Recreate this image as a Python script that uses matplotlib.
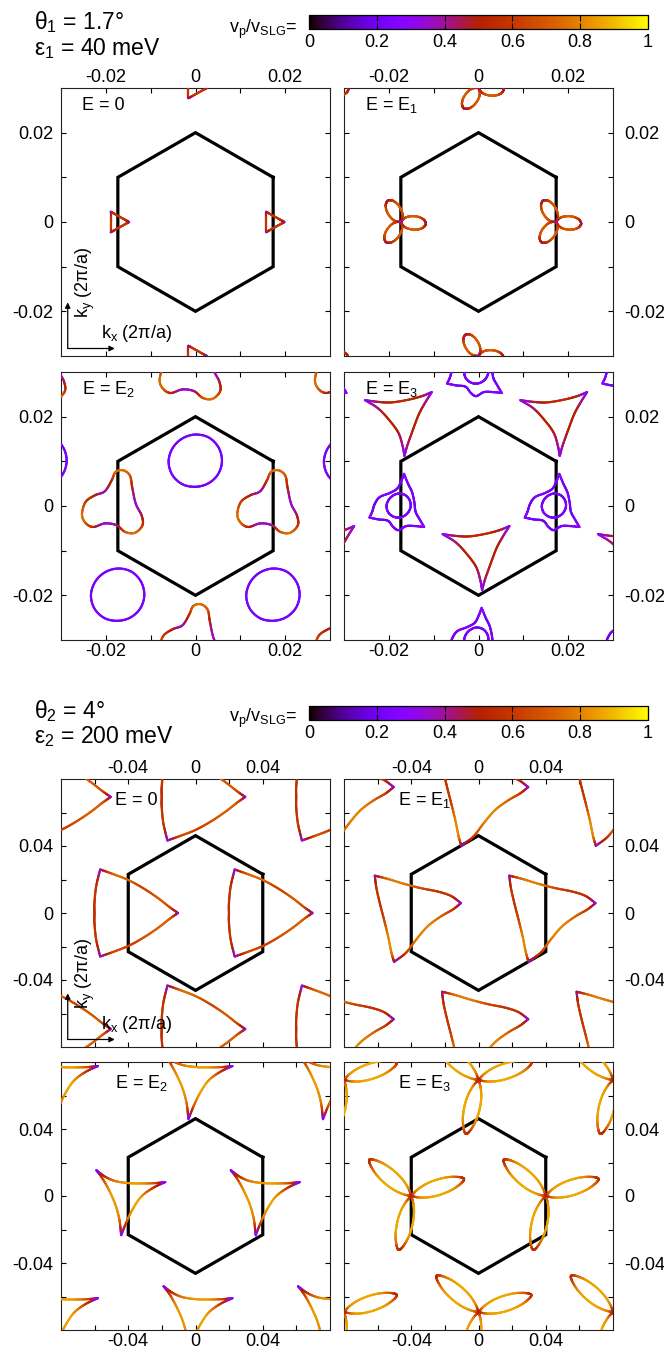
import numpy as np
import matplotlib
matplotlib.use("Agg")
import matplotlib.pyplot as plt
from matplotlib.collections import LineCollection
from matplotlib.colors import Normalize
from matplotlib.cm import ScalarMappable

plt.rcParams["font.family"] = ["Liberation Sans", "DejaVu Sans"]
plt.rcParams["mathtext.fontset"] = "custom"
plt.rcParams["mathtext.rm"] = "Liberation Sans"
plt.rcParams["mathtext.it"] = "Liberation Sans:italic"
plt.rcParams["mathtext.bf"] = "Liberation Sans:bold"
plt.rcParams["axes.unicode_minus"] = False

# ------------------------------------------------------------------ texts
GROUP_THETA = ["θ$_1$ = 1.7°", "θ$_2$ = 4°"]
GROUP_EPS = ["ε$_1$ = 40 meV", "ε$_2$ = 200 meV"]
PANEL_LABELS = ["E = 0", "E = E$_1$", "E = E$_2$", "E = E$_3$"]
CBAR_LABEL = "v$_\\mathrm{p}$/v$_\\mathrm{SLG}$="
CBAR_TICKS = [0, 0.2, 0.4, 0.6, 0.8, 1.0]
CBAR_TICKLABELS = ["0", "0.2", "0.4", "0.6", "0.8", "1"]
KX_LABEL = "k$_\\mathrm{x}$ (2π/a)"
KY_LABEL = "k$_\\mathrm{y}$ (2π/a)"

# ------------------------------------------------------------------ axes data
HEX_R = [0.02, 0.04619]          # hexagon circumradius per group
LIMS = [0.03, 0.08]
MAJOR_TICKS = [[-0.02, 0.0, 0.02], [-0.04, 0.0, 0.04]]
MAJOR_LABELS = [["-0.02", "0", "0.02"], ["-0.04", "0", "0.04"]]
MINOR_TICKS = [[-0.01, 0.01], [-0.06, -0.02, 0.02, 0.06]]

# motif sites (one per sublattice, repeated over the moire lattice)
SITE_A1 = (0.01732, 0.0)
SITE_B1 = (0.0, 0.010)
SITE_C1 = (0.0, -0.010)
SITE_A2 = (0.040, 0.0)

# ---- group 1, E = 0 : small triangles
T1_TRI_X = [-0.0016, 0.0025, -0.0016]
T1_TRI_Y = [0.0023, 0.0, -0.0023]
T1_EDGE_FRAC = [0.0, 0.15, 0.5, 0.85, 1.0]
T1_EDGE_V = [0.32, 0.54, 0.59, 0.54, 0.32]

# ---- group 1, E = E1 : three-lobed propellers (one lobe, local frame)
T2_LOBE_X = [0, 0.0006, 0.0015, 0.0027, 0.0039, 0.0049, 0.0054, 0.0056,
             0.0054, 0.0049, 0.0039, 0.0027, 0.0015, 0.0006, 0]
T2_LOBE_Y = [0, 0.0008, 0.0013, 0.0015, 0.0014, 0.0010, 0.0005, 0,
             -0.0005, -0.0010, -0.0014, -0.0015, -0.0013, -0.0008, 0]
T2_LOBE_V = [0.40, 0.58, 0.68, 0.71, 0.69, 0.60, 0.50, 0.45,
             0.50, 0.60, 0.69, 0.71, 0.68, 0.58, 0.40]
T2_LOBE_ANG = [-4, 121, 234]

# ---- group 1, E = E2 : three-lobed blobs + violet pockets
T3_BLOB_X = [-0.0080, -0.0072, -0.0051, -0.0029, -0.0014, -0.0005, 0.0012, 0.0027,
             0.0032, 0.0040, 0.0053, 0.0055, 0.0038, 0.0016, -0.0003, -0.0029,
             -0.0055, -0.0072]
T3_BLOB_Y = [-0.0019, 0.0009, 0.0024, 0.0033, 0.0057, 0.0076, 0.0080, 0.0068,
             0.0042, 0.0005, -0.0021, -0.0043, -0.0060, -0.0058, -0.0043, -0.0039,
             -0.0047, -0.0038]
T3_BLOB_V = [0.75, 0.62, 0.50, 0.38, 0.55, 0.72, 0.75, 0.70,
             0.50, 0.36, 0.45, 0.58, 0.75, 0.70, 0.42, 0.36,
             0.50, 0.70]
T3_CIRC_ANG = [0, 30, 60, 90, 120, 150, 180, 210, 240, 270, 300, 330]
T3_CIRC_R = [0.0059, 0.0060, 0.0061, 0.0060, 0.0059, 0.0059,
             0.0060, 0.0060, 0.0059, 0.0057, 0.0057, 0.0058]
T3_CIRC_V = [0.22, 0.22, 0.23, 0.22, 0.21, 0.22, 0.22, 0.23, 0.22, 0.21, 0.22, 0.22]

# ---- group 1, E = E3 : wavy outer pocket + inner pocket, and deltoids
T4_OUT_X = [[0.0007, 0.0001, -0.0008, -0.0025, -0.0047, -0.0058, -0.0064, -0.0070],
            [-0.0070, -0.0050, -0.0029, -0.0017, -0.0005, 0.0012, 0.0033, 0.0052],
            [0.0052, 0.0042, 0.0033, 0.0030, 0.0025, 0.0016, 0.0007]]
T4_OUT_Y = [[0.0072, 0.0056, 0.0039, 0.0029, 0.0020, 0.0005, -0.0013, -0.0026],
            [-0.0026, -0.0030, -0.0033, -0.0047, -0.0054, -0.0045, -0.0045, -0.0047],
            [-0.0047, -0.0030, -0.0013, 0.0009, 0.0031, 0.0050, 0.0072]]
T4_OUT_V = [[0.30, 0.24, 0.20, 0.24, 0.22, 0.19, 0.22, 0.30],
            [0.30, 0.22, 0.19, 0.24, 0.21, 0.23, 0.24, 0.30],
            [0.30, 0.24, 0.20, 0.22, 0.23, 0.20, 0.30]]
T4_IN_CENTER = (-0.0004, 0.0)
T4_IN_ANG = [0, 30, 60, 90, 120, 150, 180, 210, 240, 270, 300, 330]
T4_IN_R = [0.0026, 0.0027, 0.0028, 0.0028, 0.0027, 0.0027,
           0.0028, 0.0028, 0.0027, 0.0026, 0.0025, 0.0025]
T4_IN_V = [0.22] * 12
T4_DEL_X = [[-0.0080, -0.0050, -0.0020, 0.0017, 0.0047, 0.0069],
            [0.0069, 0.0054, 0.0040, 0.0026, 0.0014, 0.0008],
            [0.0008, 0.0004, -0.0005, -0.0024, -0.0050, -0.0080]]
T4_DEL_Y = [[0.0037, 0.0033, 0.0032, 0.0038, 0.0046, 0.0055],
            [0.0055, 0.0031, 0.0005, -0.0032, -0.0066, -0.0088],
            [-0.0088, -0.0066, -0.0037, -0.0010, 0.0018, 0.0037]]
T4_DEL_V = [[0.30, 0.45, 0.52, 0.54, 0.48, 0.30],
            [0.30, 0.42, 0.50, 0.50, 0.42, 0.30],
            [0.30, 0.38, 0.47, 0.52, 0.45, 0.30]]

# ---- group 2, E = 0 : rounded triangles
B1_X = [[-0.0167, -0.0089, 0.0, 0.0089, 0.0177, 0.0246, 0.0296],
        [0.0296, 0.0246, 0.0177, 0.0089, 0.0, -0.0089, -0.0167],
        [-0.0167, -0.0191, -0.0201, -0.0201, -0.0201, -0.0191, -0.0167]]
B1_Y = [[0.0260, 0.0232, 0.0197, 0.0148, 0.0089, 0.0035, 0.0],
        [0.0, -0.0035, -0.0089, -0.0148, -0.0197, -0.0232, -0.0260],
        [-0.0260, -0.0158, -0.0059, 0.0, 0.0059, 0.0158, 0.0260]]
B1_V = [[0.35, 0.71, 0.73, 0.64, 0.70, 0.66, 0.35],
        [0.35, 0.68, 0.72, 0.68, 0.62, 0.66, 0.35],
        [0.35, 0.58, 0.57, 0.57, 0.57, 0.58, 0.35]]

# ---- group 2, E = E1 : twisted triangles
B2_X = [[-0.0217, -0.0138, -0.0039, 0.0059, 0.0158, 0.0236, 0.0296],
        [0.0296, 0.0246, 0.0177, 0.0098, 0.0030, -0.0030, -0.0102],
        [-0.0102, -0.0118, -0.0138, -0.0162, -0.0187, -0.0207, -0.0217]]
B2_Y = [[0.0223, 0.0203, 0.0173, 0.0148, 0.0128, 0.0102, 0.0059],
        [0.0059, 0.0020, -0.0020, -0.0079, -0.0158, -0.0236, -0.0292],
        [-0.0292, -0.0236, -0.0138, -0.0039, 0.0059, 0.0148, 0.0223]]
B2_V = [[0.40, 0.74, 0.78, 0.66, 0.58, 0.57, 0.35],
        [0.35, 0.58, 0.72, 0.80, 0.78, 0.62, 0.35],
        [0.35, 0.76, 0.80, 0.64, 0.58, 0.58, 0.40]]

# ---- group 2, E = E2 : deltoids
B3_X = [[-0.0190, -0.0137, -0.0077, 0.0002, 0.0081, 0.0160, 0.0220],
        [0.0220, 0.0150, 0.0081, 0.0032, -0.0008, -0.0042],
        [-0.0042, -0.0053, -0.0077, -0.0117, -0.0156, -0.0190]]
B3_Y = [[0.0154, 0.0115, 0.0089, 0.0077, 0.0075, 0.0077, 0.0083],
        [0.0083, 0.0050, 0.0000, -0.0069, -0.0149, -0.0234],
        [-0.0234, -0.0139, -0.0050, 0.0040, 0.0109, 0.0154]]
B3_V = [[0.25, 0.55, 0.77, 0.84, 0.84, 0.66, 0.25],
        [0.25, 0.56, 0.82, 0.86, 0.72, 0.25],
        [0.25, 0.74, 0.84, 0.82, 0.62, 0.25]]

# ---- group 2, E = E3 : three-petal flowers (one petal, local frame)
B4_LOBE_X = [0, 0.004, 0.010, 0.017, 0.024, 0.029, 0.032, 0.033,
             0.032, 0.029, 0.024, 0.017, 0.010, 0.004, 0]
B4_LOBE_Y = [0, 0.0022, 0.0040, 0.0046, 0.0040, 0.0026, 0.0012, 0,
             -0.0012, -0.0026, -0.0040, -0.0046, -0.0040, -0.0022, 0]
B4_LOBE_V = [0.50, 0.80, 0.86, 0.87, 0.84, 0.72, 0.58, 0.55,
             0.60, 0.74, 0.84, 0.87, 0.86, 0.80, 0.50]
B4_LOBE_ANG = [18, 139, 257]

# ------------------------------------------------------------------ helpers
W, H = 664, 1349
CMAP = plt.get_cmap("gnuplot")
NORM = Normalize(0.0, 1.0)
LW_CURVE = 1.6


def spline(x, y, v, closed, n=14):
    P = np.column_stack([x, y, v]).astype(float)
    if closed:
        Q = np.vstack([P[-1], P, P[0], P[1]])
    else:
        Q = np.vstack([2 * P[0] - P[1], P, 2 * P[-1] - P[-2]])
    t = np.linspace(0, 1, n, endpoint=False)[:, None]
    out = []
    for i in range(1, len(Q) - 2):
        p0, p1, p2, p3 = Q[i - 1], Q[i], Q[i + 1], Q[i + 2]
        out.append(0.5 * (2 * p1 + (-p0 + p2) * t + (2 * p0 - 5 * p1 + 4 * p2 - p3) * t ** 2
                          + (-p0 + 3 * p1 - 3 * p2 + p3) * t ** 3))
    out.append(Q[-2][None, :])
    return np.vstack(out)


def draw_curve(ax, x, y, v, center, closed=False, angle=0.0):
    S = spline(x, y, v, closed)
    th = np.deg2rad(angle)
    c, s = np.cos(th), np.sin(th)
    X = center[0] + c * S[:, 0] - s * S[:, 1]
    Y = center[1] + s * S[:, 0] + c * S[:, 1]
    pts = np.column_stack([X, Y])
    segs = np.stack([pts[:-1], pts[1:]], axis=1)
    vals = np.clip(0.5 * (S[:-1, 2] + S[1:, 2]), 0, 1)
    lc = LineCollection(segs, cmap=CMAP, norm=NORM, linewidths=LW_CURVE,
                        capstyle="round", joinstyle="round", zorder=3)
    lc.set_array(vals)
    ax.add_collection(lc)


def polar(ang, r, c0=(0.0, 0.0)):
    a = np.deg2rad(np.asarray(ang, float))
    r = np.asarray(r, float)
    return c0[0] + r * np.cos(a), c0[1] + r * np.sin(a)


def sites(offset, K, lim, margin):
    a1 = np.array([np.sqrt(3) * K, 0.0])
    a2 = np.array([np.sqrt(3) / 2 * K, 1.5 * K])
    out = []
    for n in range(-5, 6):
        for m in range(-5, 6):
            c = np.array(offset) + n * a1 + m * a2
            if abs(c[0]) < lim + margin and abs(c[1]) < lim + margin:
                out.append(c)
    return out


def edges(ax, XS, YS, VS, center):
    for xs, ys, vs in zip(XS, YS, VS):
        draw_curve(ax, xs, ys, vs, center, closed=False)


def style(ax, g, row, col):
    lim = LIMS[g]
    ax.set_xlim(-lim, lim)
    ax.set_ylim(-lim, lim)
    ax.set_xticks(MAJOR_TICKS[g])
    ax.set_xticklabels(MAJOR_LABELS[g])
    ax.set_yticks(MAJOR_TICKS[g])
    ax.set_yticklabels(MAJOR_LABELS[g])
    ax.set_xticks(MINOR_TICKS[g], minor=True)
    ax.set_yticks(MINOR_TICKS[g], minor=True)
    ax.tick_params(which="both", direction="in", top=True, bottom=True, left=True,
                   right=True, length=3.8, width=0.8, labelsize=13)
    ax.tick_params(axis="x", labeltop=(row == 0), labelbottom=(row == 1),
                   pad=1.5 if row == 0 else 2.5)
    ax.tick_params(axis="y", labelleft=(col == 0), labelright=(col == 1),
                   pad=5.5 if col == 0 else 8.0)
    for sp in ax.spines.values():
        sp.set_linewidth(0.8)
        sp.set_color("#222222")
    # hexagon
    K = HEX_R[g]
    ang = np.deg2rad(np.arange(30, 391, 60))
    ax.plot(K * np.cos(ang), K * np.sin(ang), color="black", lw=2.3, zorder=2,
            solid_joinstyle="miter")


def axis_arrows(ax, g):
    ax.annotate("", xy=(0.025, 0.20), xytext=(0.025, 0.028), xycoords="axes fraction",
                arrowprops=dict(arrowstyle="-|>", lw=0.9, color="black",
                                mutation_scale=8, shrinkA=0, shrinkB=0))
    ax.annotate("", xy=(0.20, 0.028), xytext=(0.025, 0.028), xycoords="axes fraction",
                arrowprops=dict(arrowstyle="-|>", lw=0.9, color="black",
                                mutation_scale=8, shrinkA=0, shrinkB=0))
    ax.text(0.09, 0.275, KY_LABEL, transform=ax.transAxes, rotation=90,
            ha="center", va="center", fontsize=13)
    ax.text(0.15, 0.085, KX_LABEL, transform=ax.transAxes, ha="left",
            va="center", fontsize=13)


# ------------------------------------------------------------------ figure
fig = plt.figure(figsize=(W / 100, H / 100), dpi=100)

COL_X = [61, 344]
ROW_TOP = [[88, 372], [779, 1062]]
PW, PH = 269, 268
LABEL_X = [0.078, 0.2]
LABEL_Y = [0.935, 0.92]

axes = {}
for g in range(2):
    for row in range(2):
        for col in range(2):
            ax = fig.add_axes([COL_X[col] / W, 1 - (ROW_TOP[g][row] + PH) / H, PW / W, PH / H])
            style(ax, g, row, col)
            ax.text(LABEL_X[g], LABEL_Y[g], PANEL_LABELS[row * 2 + col], transform=ax.transAxes,
                    ha="left", va="center", fontsize=13, zorder=5)
            axes[(g, row, col)] = ax

# ---- group 1 panels
K1, L1 = HEX_R[0], LIMS[0]
ax = axes[(0, 0, 0)]
for c in sites(SITE_A1, K1, L1, 0.006):
    for i in range(3):
        j = (i + 1) % 3
        xs = [T1_TRI_X[i] + f * (T1_TRI_X[j] - T1_TRI_X[i]) for f in T1_EDGE_FRAC]
        ys = [T1_TRI_Y[i] + f * (T1_TRI_Y[j] - T1_TRI_Y[i]) for f in T1_EDGE_FRAC]
        draw_curve(ax, xs, ys, T1_EDGE_V, c)
axis_arrows(ax, 0)

ax = axes[(0, 0, 1)]
for c in sites(SITE_A1, K1, L1, 0.008):
    for a in T2_LOBE_ANG:
        draw_curve(ax, T2_LOBE_X, T2_LOBE_Y, T2_LOBE_V, c, angle=a)

ax = axes[(0, 1, 0)]
for c in sites(SITE_A1, K1, L1, 0.010):
    draw_curve(ax, T3_BLOB_X, T3_BLOB_Y, T3_BLOB_V, c, closed=True)
cx, cy = polar(T3_CIRC_ANG, T3_CIRC_R)
for c in sites(SITE_B1, K1, L1, 0.008):
    draw_curve(ax, cx, cy, T3_CIRC_V, c, closed=True)

ax = axes[(0, 1, 1)]
ix, iy = polar(T4_IN_ANG, T4_IN_R, T4_IN_CENTER)
for c in sites(SITE_A1, K1, L1, 0.010):
    edges(ax, T4_OUT_X, T4_OUT_Y, T4_OUT_V, c)
    draw_curve(ax, ix, iy, T4_IN_V, c, closed=True)
for c in sites(SITE_C1, K1, L1, 0.010):
    edges(ax, T4_DEL_X, T4_DEL_Y, T4_DEL_V, c)

# ---- group 2 panels
K2, L2 = HEX_R[1], LIMS[1]
ax = axes[(1, 0, 0)]
for c in sites(SITE_A2, K2, L2, 0.035):
    edges(ax, B1_X, B1_Y, B1_V, c)
axis_arrows(ax, 1)

ax = axes[(1, 0, 1)]
for c in sites(SITE_A2, K2, L2, 0.035):
    edges(ax, B2_X, B2_Y, B2_V, c)

ax = axes[(1, 1, 0)]
for c in sites(SITE_A2, K2, L2, 0.03):
    edges(ax, B3_X, B3_Y, B3_V, c)

ax = axes[(1, 1, 1)]
for c in sites(SITE_A2, K2, L2, 0.036):
    for a in B4_LOBE_ANG:
        draw_curve(ax, B4_LOBE_X, B4_LOBE_Y, B4_LOBE_V, c, angle=a)

# ---- headers and colour bars
CB_TOP = [15.0, 706.0]
TH_BASE = [29, 718]
EP_BASE = [55, 743]
CBL_BASE = [33, 722]
for g in range(2):
    fig.text(34 / W, 1 - TH_BASE[g] / H, GROUP_THETA[g], fontsize=16.5, ha="left", va="baseline")
    fig.text(34 / W, 1 - EP_BASE[g] / H, GROUP_EPS[g], fontsize=16.5, ha="left", va="baseline")
    fig.text(297 / W, 1 - CBL_BASE[g] / H, CBAR_LABEL, fontsize=13, ha="right", va="baseline")
    cax = fig.add_axes([309 / W, 1 - (CB_TOP[g] + 14.3) / H, 339 / W, 14.3 / H])
    cb = fig.colorbar(ScalarMappable(norm=NORM, cmap=CMAP), cax=cax,
                      orientation="horizontal", ticks=CBAR_TICKS)
    cb.ax.set_xticklabels(CBAR_TICKLABELS)
    cb.ax.tick_params(direction="in", top=True, bottom=True, length=4.5, width=0.8,
                      labelsize=13, pad=3.5)
    cb.outline.set_linewidth(0.9)

fig.savefig("out.png", dpi=100)
